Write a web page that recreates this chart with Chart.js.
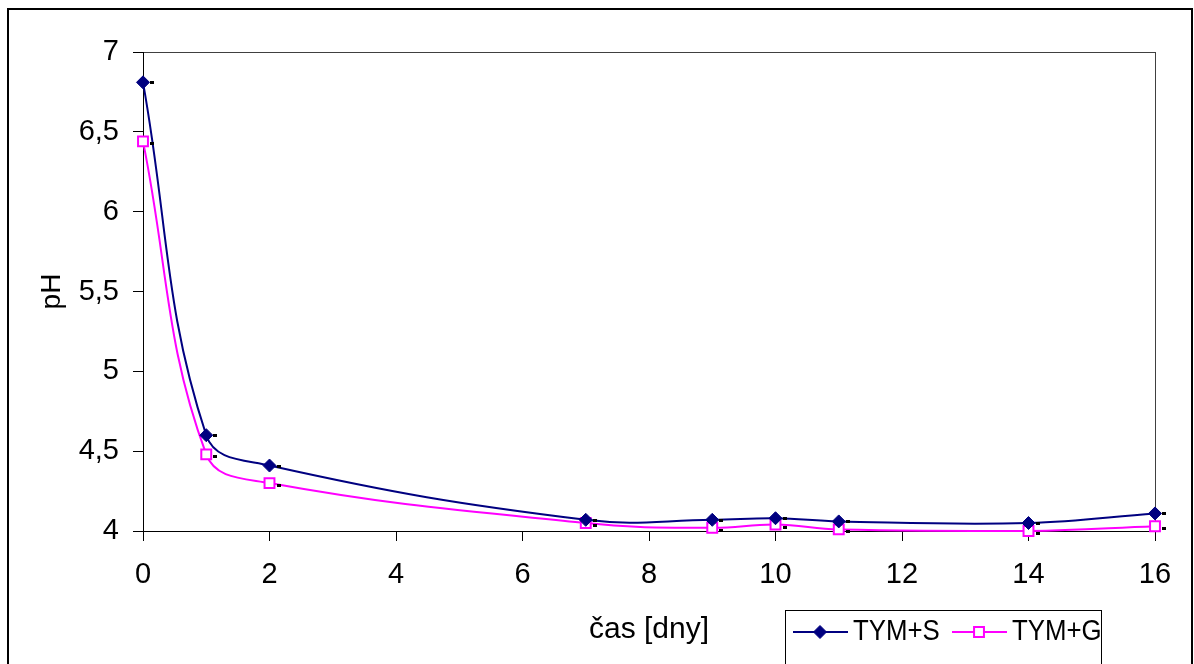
<!DOCTYPE html>
<html>
<head>
<meta charset="utf-8">
<script src="https://cdn.jsdelivr.net/npm/chart.js@4.4.1/dist/chart.umd.min.js"></script>
<style>
  html, body { margin: 0; padding: 0; background: #fff; }
  #wrap { position: relative; width: 1194px; height: 664px; }
</style>
</head>
<body>
<div id="wrap"><canvas id="chart" width="1194" height="664"></canvas></div>
<script>
// values
const days = [0, 1, 2, 7, 9, 10, 11, 14, 16];
const tymS = [6.81, 4.60, 4.41, 4.07, 4.07, 4.08, 4.06, 4.05, 4.11];
const tymG = [6.44, 4.48, 4.30, 4.05, 4.02, 4.04, 4.01, 4.00, 4.03];
const seriesNames = ["TYM+S", "TYM+G"];
const xTicks = [0, 2, 4, 6, 8, 10, 12, 14, 16];
const yTicks = [4, 4.5, 5, 5.5, 6, 6.5, 7];

const FONT = "'Liberation Sans', Arial, sans-serif";
const toPoints = (ys) => days.map((d, i) => ({ x: d, y: ys[i] }));

// frame, plot border, small black dashes beside markers, boxed legend
const framePlugin = {
  id: "frame",
  beforeDraw(chart) {
    const { ctx, chartArea: a } = chart;
    ctx.save();
    ctx.strokeStyle = "#000";
    ctx.lineWidth = 2;
    ctx.strokeRect(8, 9, 1184, 700);
    ctx.lineWidth = 1;
    ctx.strokeStyle = "#404040";
    ctx.strokeRect(Math.round(a.left) + 0.5, Math.round(a.top) + 0.5, Math.round(a.right - a.left), Math.round(a.bottom - a.top));
    ctx.restore();
  },
  afterDatasetsDraw(chart) {
    const { ctx } = chart;
    ctx.save();
    ctx.fillStyle = "#000";
    chart.data.datasets.forEach((ds, i) => {
      chart.getDatasetMeta(i).data.forEach((p) => {
        ctx.fillRect(Math.round(p.x) + 7, Math.round(p.y) + (i === 0 ? -1 : 1), 4, 3);
      });
    });
    ctx.restore();
  },
  afterDraw(chart) {
    const { ctx } = chart;
    ctx.save();
    ctx.strokeStyle = "#000";
    ctx.lineWidth = 1;
    ctx.strokeRect(785.5, 610.5, 316, 100);
    ctx.beginPath();
    ctx.rect(786, 611, 315, 60);
    ctx.clip();
    ctx.font = "30px " + FONT;
    ctx.textBaseline = "middle";
    let lx = 793;
    const ly = 632;
    chart.data.datasets.forEach((ds) => {
      ctx.strokeStyle = ds.borderColor;
      ctx.lineWidth = 2;
      ctx.beginPath();
      ctx.moveTo(lx, ly);
      ctx.lineTo(lx + 55, ly);
      ctx.stroke();
      ctx.fillStyle = ds.pointBackgroundColor;
      ctx.strokeStyle = ds.pointBorderColor;
      ctx.lineWidth = ds.pointBorderWidth;
      Chart.helpers.drawPoint(ctx, { pointStyle: ds.pointStyle, radius: ds.pointRadius, rotation: 0, borderWidth: ds.pointBorderWidth }, lx + 27, ly);
      ctx.fillStyle = "#000";
      ctx.save();
      ctx.translate(lx + 60, ly);
      ctx.scale(0.86, 1);
      ctx.fillText(ds.label, 0, 0);
      ctx.restore();
      lx += 159;
    });
    ctx.restore();
  }
};

new Chart(document.querySelector("#chart"), {
  type: "line",
  data: {
    datasets: [
      {
        label: seriesNames[0], data: toPoints(tymS),
        borderColor: "#000080", borderWidth: 2, tension: 0.4,
        pointStyle: "rectRot", pointRadius: 6.5, pointHoverRadius: 6.5,
        pointBackgroundColor: "#000080", pointBorderColor: "#000080", pointBorderWidth: 1
      },
      {
        label: seriesNames[1], data: toPoints(tymG),
        borderColor: "#ff00ff", borderWidth: 2, tension: 0.4,
        pointStyle: "rect", pointRadius: 7, pointHoverRadius: 7,
        pointBackgroundColor: "#ffffff", pointBorderColor: "#ff00ff", pointBorderWidth: 2
      }
    ]
  },
  options: {
    responsive: false,
    animation: false,
    clip: false,
    layout: { padding: { left: 0, top: 52, right: 39, bottom: 0 } },
    plugins: { legend: { display: false }, tooltip: { enabled: false } },
    scales: {
      x: {
        type: "linear", min: 0, max: 16,
        afterFit: (s) => { s.height = 133; },
        afterBuildTicks: (s) => { s.ticks = xTicks.map((v) => ({ value: v })); },
        grid: { drawOnChartArea: false, tickLength: 10, color: "#000" },
        border: { color: "#000", width: 1 },
        ticks: { color: "#000", font: { family: FONT, size: 29 }, padding: 17, maxRotation: 0 },
        title: { display: true, text: "čas [dny]", color: "#000", font: { family: FONT, size: 30 }, padding: { top: 0, bottom: 16 } }
      },
      y: {
        min: 4, max: 7,
        afterFit: (s) => { s.width = 143; },
        afterBuildTicks: (s) => { s.ticks = yTicks.map((v) => ({ value: v })); },
        grid: { drawOnChartArea: false, tickLength: 10, color: "#000" },
        border: { color: "#000", width: 1 },
        ticks: { color: "#000", font: { family: FONT, size: 29 }, padding: 14, callback: (v) => String(v).replace(".", ",") },
        title: { display: true, text: "pH", color: "#000", font: { family: FONT, size: 28 }, padding: { top: 35, bottom: 0 } }
      }
    }
  },
  plugins: [framePlugin]
});
</script>
</body>
</html>
